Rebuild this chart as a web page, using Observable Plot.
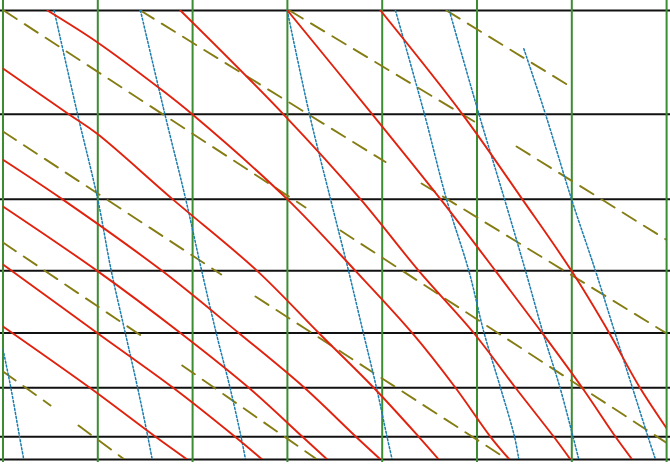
<!DOCTYPE html>
<html>
<head>
<meta charset="utf-8">
<script src="https://cdn.jsdelivr.net/npm/d3@7"></script>
<script src="https://cdn.jsdelivr.net/npm/@observablehq/plot@0.6"></script>
<style>
  html, body { margin: 0; padding: 0; background: #ffffff; }
  #chart svg { display: block; }
</style>
</head>
<body>
<div id="chart"></div>
<script>
// Horizontal grid (pressure levels, hPa) and vertical grid (temperature, °C)
const isobars = [1050, 1000, 900, 800, 700, 600, 500, 400];
const isotherms = [-40, -30, -20, -10, 0, 10, 20, 30];

// Solid red curves: [temperature, pressure] points
const solidLines = [
  [[-35.31, 400], [-30.06, 428.2], [-23.73, 471.0], [-20.04, 500], [-10.02, 600], [-2.82, 700], [3.16, 800], [7.73, 900], [11.42, 1000], [13.43, 1050]],
  [[-21.28, 400], [-10.41, 500], [-2.29, 600], [3.86, 700], [9.66, 800], [14.06, 900], [18.10, 1000], [19.86, 1050]],
  [[-9.99, 400], [-1.04, 500], [6.15, 600], [11.95, 700], [16.88, 800], [21.10, 900], [24.61, 1000], [26.37, 1050]],
  [[-0.18, 400], [8.47, 500], [14.77, 600], [19.97, 700], [23.95, 800], [27.19, 900], [30.62, 1000]],
  [[-40, 453.1], [-33.06, 500], [-30.06, 521.4], [-22.12, 600], [-13.19, 700], [-6.69, 800], [-0.89, 900], [3.86, 1000], [5.97, 1050]],
  [[-40, 551.3], [-33.76, 600], [-23.22, 700], [-15.13, 800], [-8.20, 900], [-2.77, 1000], [-0.18, 1050]],
  [[-40, 609.5], [-30.06, 700], [-21.28, 800], [-14.07, 900], [-8.41, 1000], [-5.80, 1050]],
  [[-40, 690.5], [-30.06, 800], [-22.05, 900], [-15.52, 1000], [-12.66, 1050]],
  [[-40, 788.9], [-30.84, 900], [-23.91, 1000], [-20.57, 1050]]
];

// Dotted blue curves
const dottedLines = [
  [[-40, 828.9], [-39.17, 900], [-38.25, 1000], [-37.81, 1050]],
  [[-34.61, 400], [-32.13, 500], [-30.01, 600], [-28.58, 700], [-27.10, 800], [-25.80, 900], [-24.72, 1000], [-24.26, 1050]],
  [[-25.50, 400], [-22.92, 500], [-20.73, 600], [-19.04, 700], [-17.51, 800], [-16.05, 900], [-14.89, 1000], [-14.42, 1050]],
  [[-10.02, 400], [-7.67, 500], [-5.45, 600], [-3.55, 700], [-1.99, 800], [-0.60, 900], [0.51, 1000], [1.05, 1050]],
  [[1.40, 400], [4.46, 500], [6.78, 600], [9.14, 700], [10.75, 800], [12.48, 900], [13.96, 1000], [14.41, 1050]],
  [[7.08, 400], [10.21, 500], [12.90, 600], [15.12, 700], [16.97, 800], [18.76, 900], [20.13, 1000], [20.74, 1050]],
  [[14.94, 434.3], [17.23, 500], [19.97, 600], [22.50, 700], [24.56, 800], [26.40, 900], [28.04, 1000], [28.83, 1050]]
];

// Dashed olive segments: [start, end]
const dashedLines = [
  [[-39.92, 400], [-8.09, 610.8]],
  [[-25.50, 400], [0.35, 554.0]],
  [[-9.78, 400], [10.58, 513.2]],
  [[6.78, 400], [20.23, 473.3]],
  [[-40, 518.8], [-16.98, 705.5]],
  [[-40, 658.6], [-25.15, 807.7]],
  [[-21.10, 857.8], [-6.86, 1050]],
  [[-4.40, 641.8], [30.1, 1014.4]],
  [[-13.37, 739.6], [13.22, 1050]],
  [[4.15, 580.1], [30.1, 801.7]],
  [[14.17, 535.8], [30.1, 655.7]],
  [[-40, 869.0], [-34.99, 934.8]],
  [[-32.04, 975.9], [-27.18, 1050]]
];

const toRows = (series) => series.flatMap((pts, i) => pts.map(([t, p]) => ({id: i, t, p})));

const chart = Plot.plot({
  width: 670,
  height: 465,
  marginTop: 10,
  marginBottom: 6,
  marginLeft: 2.5,
  marginRight: 3.9,
  style: {background: "#ffffff"},
  x: {domain: [-40, 30], axis: null},
  y: {type: "log", domain: [1050, 400], axis: null},
  marks: [
    Plot.ruleY(isobars, {stroke: "#111111", strokeWidth: 2, insetLeft: -2.5, insetRight: -3.9}),
    Plot.ruleX(isotherms, {stroke: "#3c8c32", strokeWidth: 2, insetTop: -10, insetBottom: -3}),
    Plot.line(toRows(dashedLines), {x: "t", y: "p", z: "id", stroke: "#857d14", strokeWidth: 1.9, strokeDasharray: "15.5,9.5", clip: "frame"}),
    Plot.line(toRows(dottedLines), {x: "t", y: "p", z: "id", stroke: "#1a7db0", strokeWidth: 1.5, strokeDasharray: "2,2", curve: "catmull-rom", clip: "frame"}),
    Plot.line(toRows(solidLines), {x: "t", y: "p", z: "id", stroke: "#e0220e", strokeWidth: 1.9, curve: "catmull-rom", clip: "frame"})
  ]
});

document.getElementById("chart").appendChild(chart);
</script>
</body>
</html>
